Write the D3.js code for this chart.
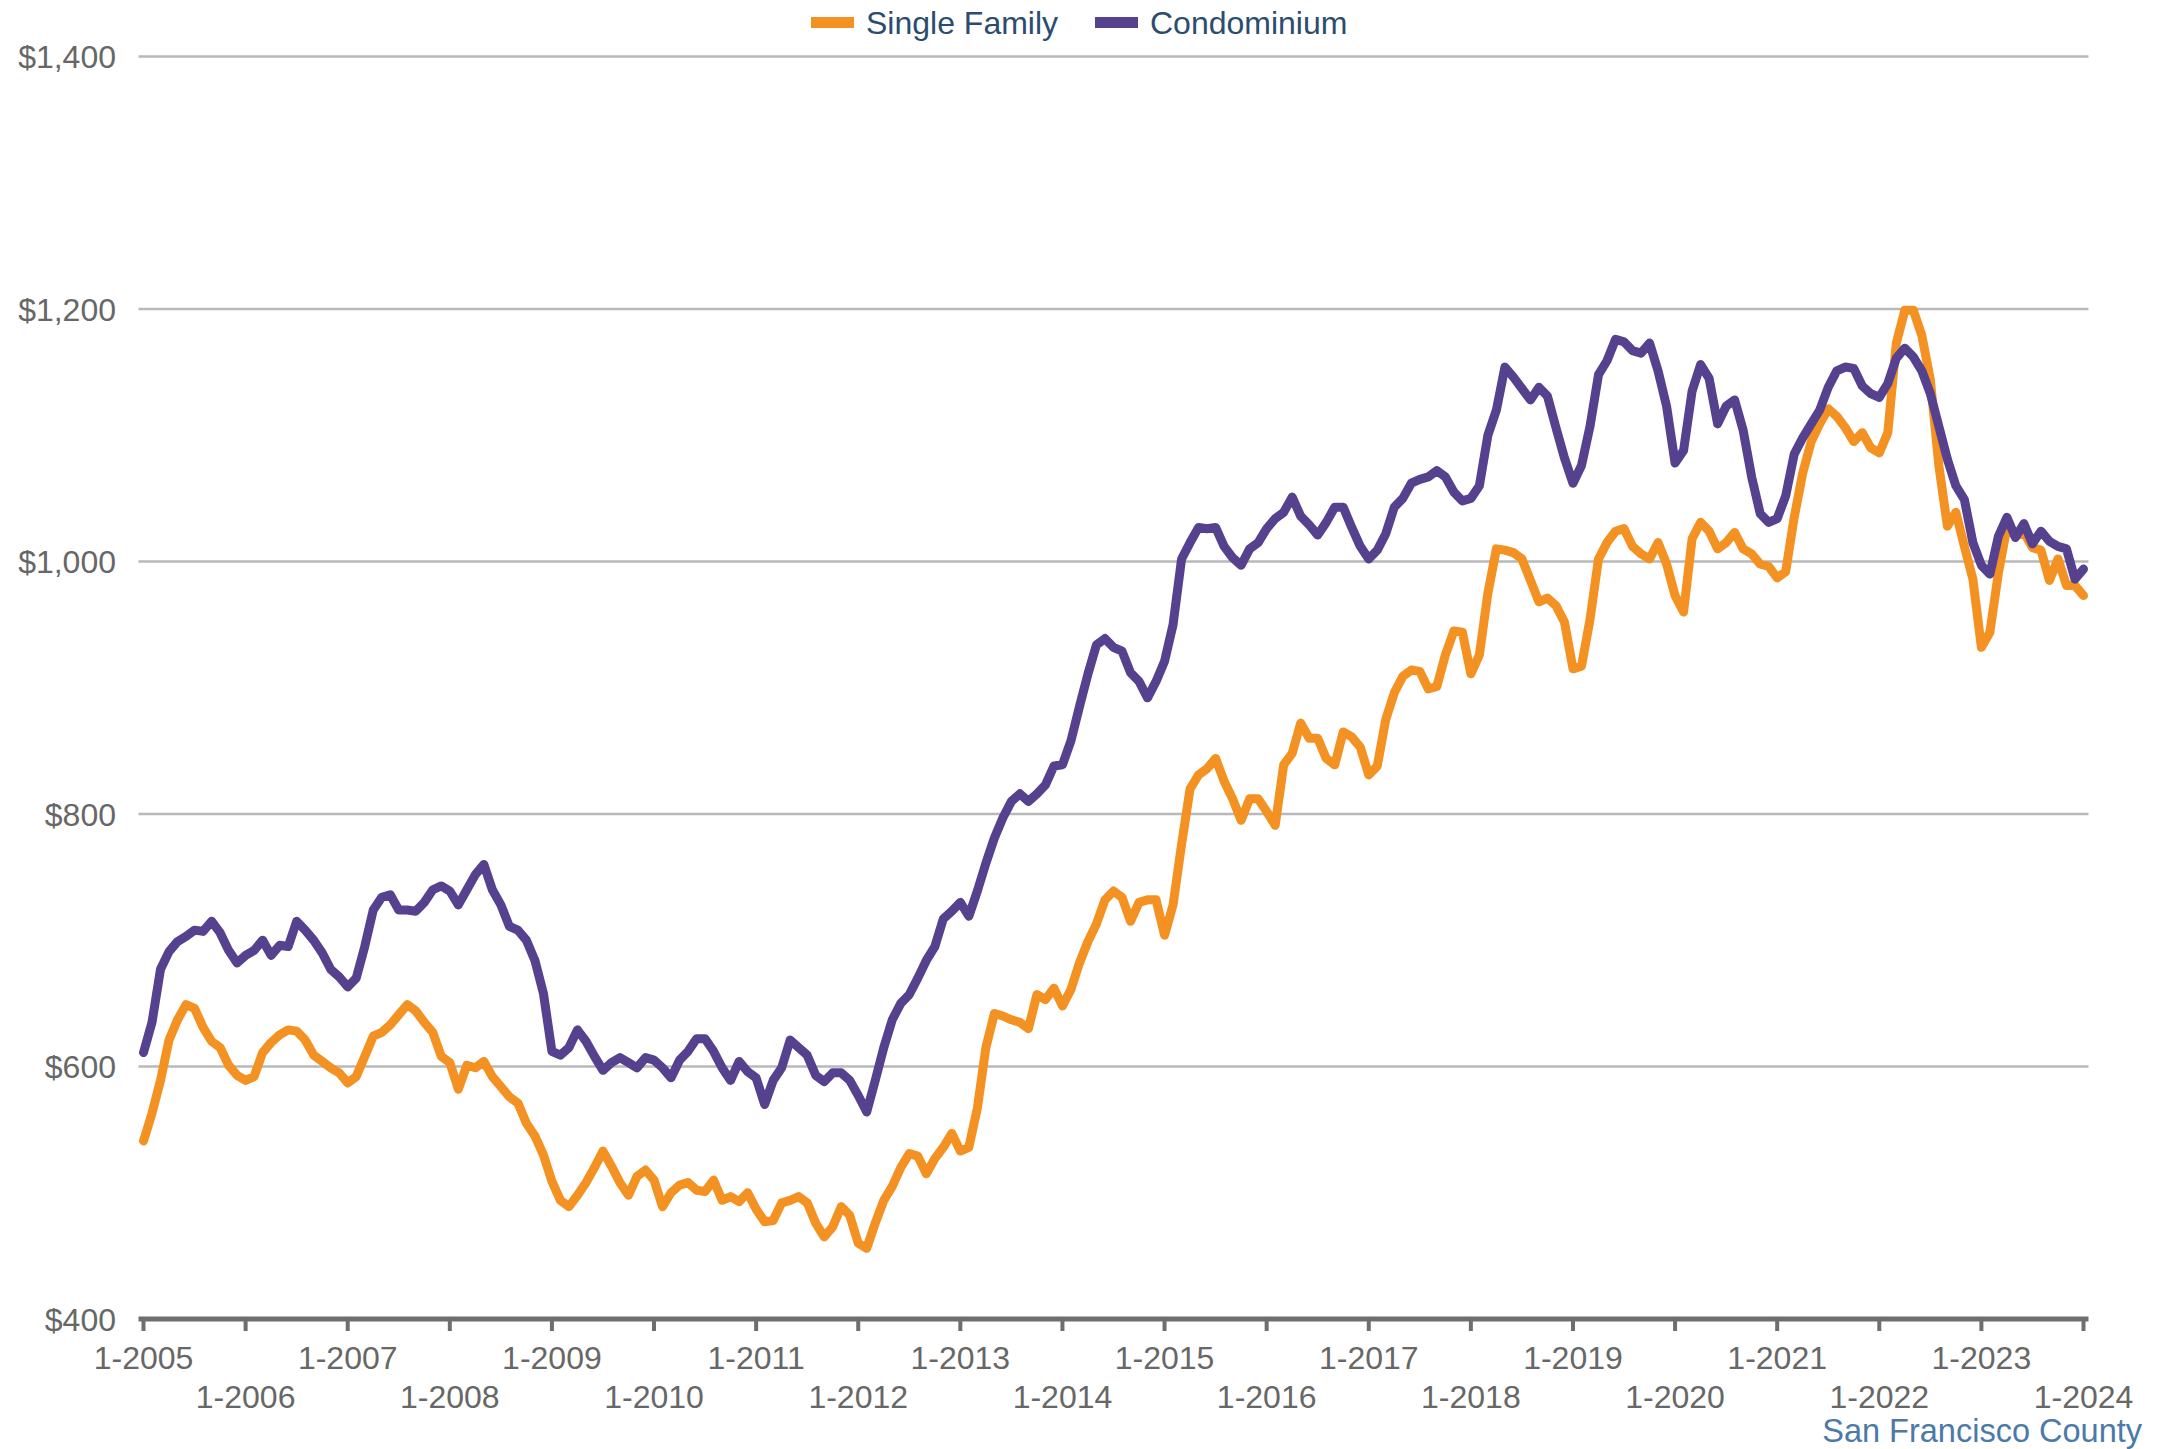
<!DOCTYPE html>
<html>
<head>
<meta charset="utf-8">
<script src="https://cdn.jsdelivr.net/npm/d3@7"></script>
<style>
  html, body { margin: 0; padding: 0; background: #fff; }
  svg { display: block; font-family: "Liberation Sans", Arial, sans-serif; }
</style>
</head>
<body>
<svg id="chart" width="2160" height="1449"></svg>
<script>
const WIDTH = 2160;
const HEIGHT = 1449;

const seriesNames = ["Single Family", "Condominium"];
const seriesColors = ["#F39223", "#56418F"];
const tickYears = d3.range(2005, 2025);
const yTicks = [400, 600, 800, 1000, 1200, 1400];
const caption = "San Francisco County";

// monthly values, 1-2005 .. 1-2024
const singleFamily = [
  541, 563, 589, 621, 637, 649, 646, 631, 620, 615, 601, 593,
  589, 592, 611, 619, 625, 629, 628, 621, 609, 604, 599, 595,
  587, 592, 608, 624, 627, 633, 641, 649, 644, 635, 627, 608,
  603, 582, 601, 599, 604, 592, 584, 576, 571, 555, 545, 530,
  509, 494, 489, 498, 508, 520, 533, 521, 508, 498, 513, 518,
  510, 489, 500, 506, 508, 502, 501, 510, 494, 497, 493, 500,
  487, 477, 478, 492, 494, 497, 492, 476, 465, 473, 489, 482,
  460, 456, 476, 494, 505, 520, 531, 529, 515, 527, 536, 547,
  533, 536, 567, 615, 642, 640, 637, 635, 630, 657, 653, 662,
  648, 661, 682, 699, 713, 732, 739, 734, 715, 730, 732, 732,
  704, 728, 776, 820, 831, 836, 844, 826, 812, 795, 812, 812,
  802, 791, 839, 848, 872, 860, 860, 844, 839, 865, 861, 853,
  831, 838, 875, 896, 909, 914, 913, 899, 901, 926, 945, 944,
  911, 926, 975, 1010, 1009, 1007, 1002, 985, 968, 971, 965, 952,
  915, 917, 954, 1002, 1015, 1024, 1026, 1012, 1006, 1002, 1015, 998,
  973, 960, 1018, 1031, 1024, 1010, 1015, 1023, 1010, 1006, 998, 996,
  987, 992, 1035, 1070, 1095, 1109, 1121, 1115, 1106, 1095, 1102, 1090,
  1086, 1102, 1173, 1199, 1199, 1179, 1144, 1076, 1028, 1039, 1012, 986,
  932, 944, 991, 1027, 1020, 1023, 1011, 1009, 985, 1002, 981, 981,
  973
];

const condominium = [
  611, 635, 677, 691, 699, 703, 708, 707, 715, 706, 692, 682,
  688, 692, 700, 688, 696, 695, 715, 708, 700, 690, 677, 671,
  663, 670, 695, 724, 734, 736, 724, 724, 723, 730, 740, 743,
  739, 728, 740, 752, 760, 740, 728, 711, 708, 700, 684, 658,
  612, 609, 615, 629, 620, 608, 597, 603, 607, 603, 599, 607,
  605, 599, 591, 605, 612, 622, 622, 612, 599, 589, 604, 596,
  591, 570, 589, 599, 621, 615, 609, 593, 588, 595, 595, 589,
  577, 564, 589, 615, 637, 650, 657, 670, 684, 695, 717, 723,
  730, 719, 739, 761, 781, 797, 810, 816, 810, 816, 823, 838,
  839, 858, 885, 911, 934, 939, 932, 929, 912, 905, 892, 905,
  921, 950, 1002, 1015, 1027, 1026, 1027, 1012, 1003, 997, 1010, 1015,
  1026, 1034, 1039, 1051, 1036, 1029, 1021, 1031, 1043, 1043, 1027, 1012,
  1002, 1009, 1022, 1043, 1050, 1062, 1065, 1067, 1072, 1067, 1055, 1048,
  1050, 1060, 1100, 1120, 1154, 1146, 1137, 1128, 1138, 1131, 1106, 1082,
  1062, 1076, 1107, 1148, 1159, 1176, 1174, 1167, 1165, 1173, 1151, 1123,
  1078, 1088, 1135, 1156, 1145, 1109, 1123, 1128, 1104, 1067, 1038, 1031,
  1034, 1052, 1085, 1098, 1109, 1120, 1138, 1151, 1154, 1153, 1139, 1133,
  1130, 1141, 1161, 1169, 1162, 1151, 1133, 1107, 1081, 1060, 1049, 1015,
  997, 990, 1020, 1035, 1019, 1030, 1014, 1024, 1016, 1012, 1010, 986,
  994
];

const margin = { top: 56.5, right: WIDTH - 2083.5, bottom: HEIGHT - 1319, left: 143.5 };

const svg = d3.select("#chart");

const x = d3.scaleLinear()
  .domain([0, singleFamily.length - 1])
  .range([margin.left, WIDTH - margin.right]);

const y = d3.scaleLinear()
  .domain([400, 1400])
  .range([HEIGHT - margin.bottom, margin.top]);

const monthIndex = year => (year - 2005) * 12;

// gridlines
svg.append("g")
  .selectAll("line")
  .data(yTicks.filter(v => v > 400))
  .join("line")
  .attr("x1", margin.left - 5)
  .attr("x2", WIDTH - margin.right + 5)
  .attr("y1", d => y(d))
  .attr("y2", d => y(d))
  .attr("stroke", "#b9b9b9")
  .attr("stroke-width", 2.5);

// y labels
svg.append("g")
  .selectAll("text")
  .data(yTicks)
  .join("text")
  .attr("x", 116)
  .attr("y", d => y(d))
  .attr("dy", "0.36em")
  .attr("text-anchor", "end")
  .attr("font-size", 32)
  .attr("fill", "#676767")
  .text(d => "$" + d3.format(",")(d));

// x axis
const xAxis = svg.append("g");
xAxis.append("line")
  .attr("x1", margin.left - 5)
  .attr("x2", WIDTH - margin.right + 5)
  .attr("y1", y(400))
  .attr("y2", y(400))
  .attr("stroke", "#6e6e6e")
  .attr("stroke-width", 5);

xAxis.selectAll("line.tick")
  .data(tickYears)
  .join("line")
  .attr("class", "tick")
  .attr("x1", d => x(monthIndex(d)))
  .attr("x2", d => x(monthIndex(d)))
  .attr("y1", y(400))
  .attr("y2", y(400) + 12)
  .attr("stroke", "#6e6e6e")
  .attr("stroke-width", 4);

xAxis.selectAll("text")
  .data(tickYears)
  .join("text")
  .attr("x", d => x(monthIndex(d)))
  .attr("y", (d, i) => i % 2 === 0 ? 1369 : 1408)
  .attr("text-anchor", "middle")
  .attr("font-size", 32)
  .attr("fill", "#676767")
  .text(d => "1-" + d);

// lines
const line = d3.line()
  .x((d, i) => x(i))
  .y(d => y(d));

[singleFamily, condominium].forEach((values, i) => {
  svg.append("path")
    .datum(values)
    .attr("fill", "none")
    .attr("stroke", seriesColors[i])
    .attr("stroke-width", 9)
    .attr("stroke-linejoin", "round")
    .attr("stroke-linecap", "round")
    .attr("d", line);
});

// legend
const legendItems = [
  { name: seriesNames[0], color: seriesColors[0], x: 811 },
  { name: seriesNames[1], color: seriesColors[1], x: 1095 }
];
const legend = svg.append("g");
legendItems.forEach(item => {
  legend.append("rect")
    .attr("x", item.x)
    .attr("y", 17)
    .attr("width", 43)
    .attr("height", 11)
    .attr("fill", item.color);
  legend.append("text")
    .attr("x", item.x + 55)
    .attr("y", 22)
    .attr("dy", "0.36em")
    .attr("font-size", 32)
    .attr("fill", "#2B4C6F")
    .text(item.name);
});

svg.append("text")
  .attr("x", 2142)
  .attr("y", 1430)
  .attr("dy", "0.36em")
  .attr("text-anchor", "end")
  .attr("font-size", 32.5)
  .attr("fill", "#4B79A8")
  .text(caption);
</script>
</body>
</html>
